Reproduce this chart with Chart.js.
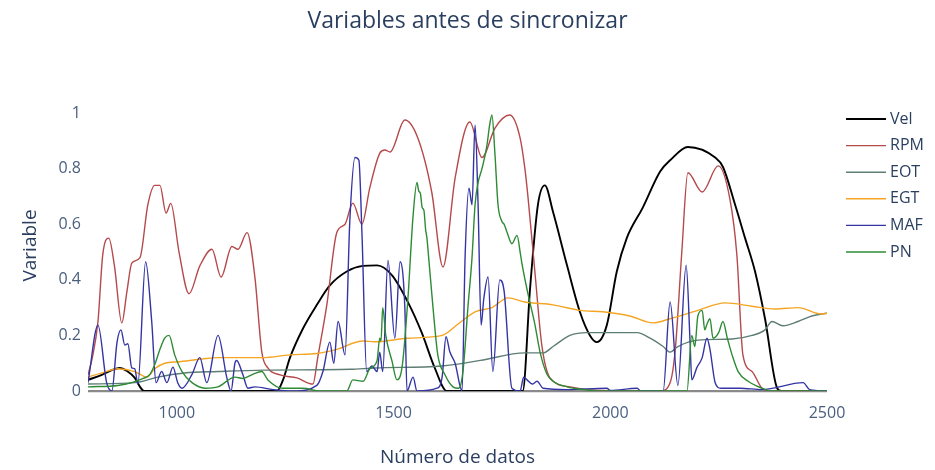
<!DOCTYPE html>
<html>
<head>
<meta charset="utf-8">
<script src="https://cdn.jsdelivr.net/npm/chart.js@4.4.1/dist/chart.umd.min.js"></script>
<style>
  html, body { margin: 0; padding: 0; background: #fff; }
</style>
</head>
<body>
<canvas id="chart" width="935" height="470"></canvas>
<script>
// Series: [Número de datos, value]
const chartTitle = 'Variables antes de sincronizar';
const seriesNames = ['Vel', 'RPM', 'EOT', 'EGT', 'MAF', 'PN'];
const seriesColors = ['#000000', '#b5494b', '#5e7d74', '#f5a524', '#3434a4', '#2e8b35'];
const xTicks = [1000, 1500, 2000, 2500];
const yTicks = [0, 0.2, 0.4, 0.6, 0.8, 1];

const vel = [[795,0.04],[827,0.058],[850,0.075],[868,0.083],[885,0.072],[903,0.047],[915,0.015],[924,0],[1231,0],[1245,0.04],[1261,0.12],[1291,0.225],[1323,0.31],[1353,0.38],[1392,0.43],[1429,0.45],[1462,0.452],[1496,0.417],[1533,0.32],[1565,0.21],[1595,0.083],[1623,0],[1798,0],[1815,0.37],[1833,0.67],[1849,0.74],[1868,0.644],[1900,0.453],[1930,0.284],[1953,0.2],[1969,0.176],[1992,0.237],[2015,0.43],[2038,0.55],[2075,0.66],[2115,0.79],[2138,0.83],[2179,0.878],[2242,0.84],[2260,0.806],[2288,0.67],[2311,0.55],[2334,0.43],[2357,0.26],[2385,0.01],[2395,0],[2500,0]];

const rpm = [[795,0.058],[805,0.12],[818,0.25],[829,0.49],[843,0.55],[856,0.45],[873,0.245],[885,0.36],[896,0.46],[915,0.48],[933,0.67],[949,0.74],[961,0.74],[975,0.64],[986,0.675],[1005,0.5],[1028,0.35],[1053,0.45],[1081,0.51],[1102,0.41],[1127,0.52],[1141,0.51],[1162,0.57],[1180,0.41],[1196,0.14],[1210,0.083],[1238,0.058],[1277,0.047],[1314,0.025],[1325,0.12],[1346,0.31],[1369,0.57],[1388,0.6],[1406,0.676],[1427,0.6],[1445,0.73],[1468,0.855],[1480,0.867],[1492,0.86],[1526,0.975],[1556,0.91],[1588,0.716],[1614,0.446],[1642,0.766],[1676,0.968],[1704,0.84],[1734,0.946],[1768,0.993],[1792,0.91],[1803,0.8],[1810,0.7],[1826,0.43],[1842,0.165],[1861,0.047],[1907,0.015],[1960,0.003],[2115,0],[2138,0.03],[2150,0.15],[2165,0.5],[2179,0.785],[2212,0.716],[2249,0.81],[2276,0.69],[2292,0.49],[2306,0.13],[2327,0.07],[2350,0.01],[2370,0],[2500,0]];

const eot = [[795,0.025],[903,0.03],[956,0.05],[1018,0.065],[1095,0.07],[1200,0.075],[1400,0.078],[1457,0.083],[1612,0.09],[1700,0.11],[1803,0.137],[1845,0.137],[1868,0.16],[1907,0.2],[1946,0.21],[2062,0.21],[2092,0.19],[2122,0.16],[2138,0.14],[2156,0.16],[2202,0.183],[2281,0.187],[2327,0.2],[2357,0.22],[2373,0.25],[2398,0.235],[2433,0.25],[2465,0.27],[2500,0.28]];

const egt = [[795,0.05],[827,0.065],[864,0.08],[903,0.07],[931,0.05],[949,0.08],[972,0.1],[1002,0.105],[1058,0.115],[1095,0.12],[1134,0.12],[1198,0.12],[1261,0.13],[1323,0.135],[1369,0.15],[1429,0.18],[1457,0.177],[1533,0.19],[1612,0.2],[1648,0.24],[1688,0.285],[1727,0.3],[1764,0.335],[1803,0.32],[1868,0.31],[1930,0.29],[1983,0.285],[2045,0.27],[2098,0.245],[2138,0.26],[2202,0.29],[2265,0.317],[2327,0.305],[2380,0.295],[2433,0.3],[2488,0.277],[2500,0.28]];

const maf = [[795,0.03],[818,0.237],[838,0.03],[850,0],[862,0.176],[871,0.22],[880,0.165],[887,0.17],[896,0.083],[903,0.08],[910,0.025],[928,0.465],[942,0.25],[952,0.03],[965,0.07],[977,0.03],[991,0.086],[1002,0.03],[1012,0.01],[1035,0.06],[1053,0.12],[1069,0.03],[1095,0.2],[1115,0.05],[1125,0],[1134,0.1],[1138,0.11],[1152,0.06],[1164,0.01],[1180,0.015],[1222,0.005],[1270,0],[1323,0.02],[1337,0.07],[1353,0.176],[1362,0.1],[1372,0.25],[1388,0.13],[1399,0.61],[1411,0.84],[1420,0.83],[1427,0.57],[1438,0.07],[1450,0.09],[1462,0.07],[1468,0.14],[1475,0.07],[1487,0.47],[1503,0.19],[1515,0.465],[1526,0.3],[1531,0],[1545,0.05],[1554,0],[1600,0.01],[1612,0.05],[1621,0.195],[1630,0.14],[1642,0.1],[1658,0],[1665,0.48],[1674,0.73],[1681,0.67],[1688,0.957],[1695,0.67],[1702,0.237],[1708,0.33],[1718,0.41],[1729,0.07],[1745,0.4],[1755,0.36],[1773,0.01],[1792,0],[1800,0.05],[1808,0.04],[1820,0.025],[1831,0.035],[1845,0.01],[1900,0.005],[1992,0.01],[2000,0.002],[2062,0.01],[2070,0],[2122,0],[2138,0.32],[2156,0.02],[2175,0.453],[2184,0.18],[2188,0.04],[2200,0.085],[2212,0.12],[2223,0.19],[2230,0.15],[2242,0.03],[2255,0.01],[2300,0.01],[2350,0.005],[2445,0.03],[2460,0.005],[2500,0]];

const pn = [[795,0.015],[864,0.02],[896,0.03],[922,0.045],[938,0.06],[949,0.095],[961,0.15],[972,0.19],[982,0.2],[995,0.13],[1012,0.07],[1035,0.03],[1065,0.01],[1095,0.015],[1134,0.05],[1152,0.045],[1175,0.06],[1196,0.07],[1210,0.04],[1245,0.01],[1291,0.01],[1330,0],[1392,0],[1406,0.04],[1430,0.035],[1445,0.08],[1462,0.11],[1468,0.19],[1471,0.18],[1475,0.3],[1482,0.2],[1496,0.11],[1508,0.04],[1520,0.09],[1533,0.33],[1545,0.63],[1554,0.75],[1558,0.72],[1562,0.71],[1566,0.66],[1570,0.65],[1574,0.58],[1577,0.55],[1581,0.48],[1591,0.3],[1602,0.13],[1618,0.06],[1637,0.015],[1650,0.01],[1660,0.07],[1672,0.31],[1681,0.48],[1688,0.67],[1695,0.75],[1704,0.8],[1715,0.88],[1722,0.96],[1727,0.993],[1734,0.85],[1741,0.67],[1750,0.61],[1755,0.6],[1762,0.57],[1773,0.53],[1785,0.56],[1792,0.5],[1796,0.46],[1810,0.35],[1826,0.24],[1838,0.14],[1854,0.06],[1868,0.035],[1900,0.015],[1940,0.005],[1980,0],[2177,0],[2188,0.2],[2195,0.16],[2202,0.27],[2212,0.29],[2218,0.22],[2223,0.24],[2230,0.26],[2237,0.19],[2250,0.21],[2260,0.25],[2270,0.19],[2281,0.13],[2295,0.07],[2318,0.035],[2350,0.01],[2370,0],[2500,0]];

const seriesData = [vel, rpm, eot, egt, maf, pn];

Chart.defaults.font.family = '"Open Sans", "Noto Sans", sans-serif';
Chart.defaults.color = '#4a5e7e';

// Plotly-style title (centred on the whole figure) and legend at the right
const figureDecor = {
  id: 'figureDecor',
  afterDraw(chart) {
    const ctx = chart.ctx;
    ctx.save();
    ctx.textBaseline = 'middle';
    ctx.fillStyle = '#2a3f5f';
    ctx.font = '23px "Open Sans"';
    ctx.textAlign = 'center';
    ctx.fillText(chartTitle, chart.width / 2, 21);
    ctx.textAlign = 'left';
    ctx.font = '16px "Open Sans"';
    chart.data.datasets.forEach((ds, i) => {
      const y = 119 + i * 26.6;
      ctx.strokeStyle = ds.borderColor;
      ctx.lineWidth = ds.borderWidth;
      ctx.beginPath();
      ctx.moveTo(846, y);
      ctx.lineTo(886, y);
      ctx.stroke();
      ctx.fillStyle = '#2a3f5f';
      ctx.fillText(ds.label, 890, y);
    });
    ctx.restore();
  }
};

new Chart(document.getElementById('chart'), {
  type: 'line',
  data: {
    datasets: seriesNames.map((name, i) => ({
      label: name,
      data: seriesData[i],
      borderColor: seriesColors[i],
      backgroundColor: seriesColors[i],
      borderWidth: i === 0 ? 1.9 : 1.4,
      pointRadius: 0,
      cubicInterpolationMode: 'monotone',
      order: seriesNames.length - i
    }))
  },
  options: {
    responsive: false,
    animation: false,
    layout: { padding: { left: 0, right: 108, top: 100, bottom: 0 } },
    plugins: {
      legend: { display: false },
      tooltip: { enabled: false },
      title: { display: false }
    },
    scales: {
      x: {
        type: 'linear',
        min: 795,
        max: 2500,
        afterFit: s => { s.height = 79; },
        afterBuildTicks: s => { s.ticks = xTicks.map(v => ({ value: v })); },
        grid: { display: false, drawTicks: false },
        border: { display: false },
        ticks: { font: { size: 16 }, padding: 13, maxRotation: 0, callback: v => String(v) },
        title: {
          display: true,
          text: 'Número de datos',
          color: '#2a3f5f',
          font: { size: 19 },
          padding: { top: 0, bottom: 1 }
        }
      },
      y: {
        min: 0,
        max: 1.047,
        afterFit: s => { s.width = 88; },
        afterBuildTicks: s => { s.ticks = yTicks.map(v => ({ value: v })); },
        grid: {
          drawTicks: false,
          color: c => (c.tick && c.tick.value === 0 ? '#8a8a8a' : 'rgba(0,0,0,0)'),
          lineWidth: 2.2
        },
        border: { display: false },
        ticks: { font: { size: 16 }, padding: 7, callback: v => String(v) },
        title: {
          display: true,
          text: 'Variable',
          color: '#2a3f5f',
          font: { size: 19 },
          padding: { top: 19, bottom: 0 }
        }
      }
    }
  },
  plugins: [figureDecor]
});
</script>
</body>
</html>
